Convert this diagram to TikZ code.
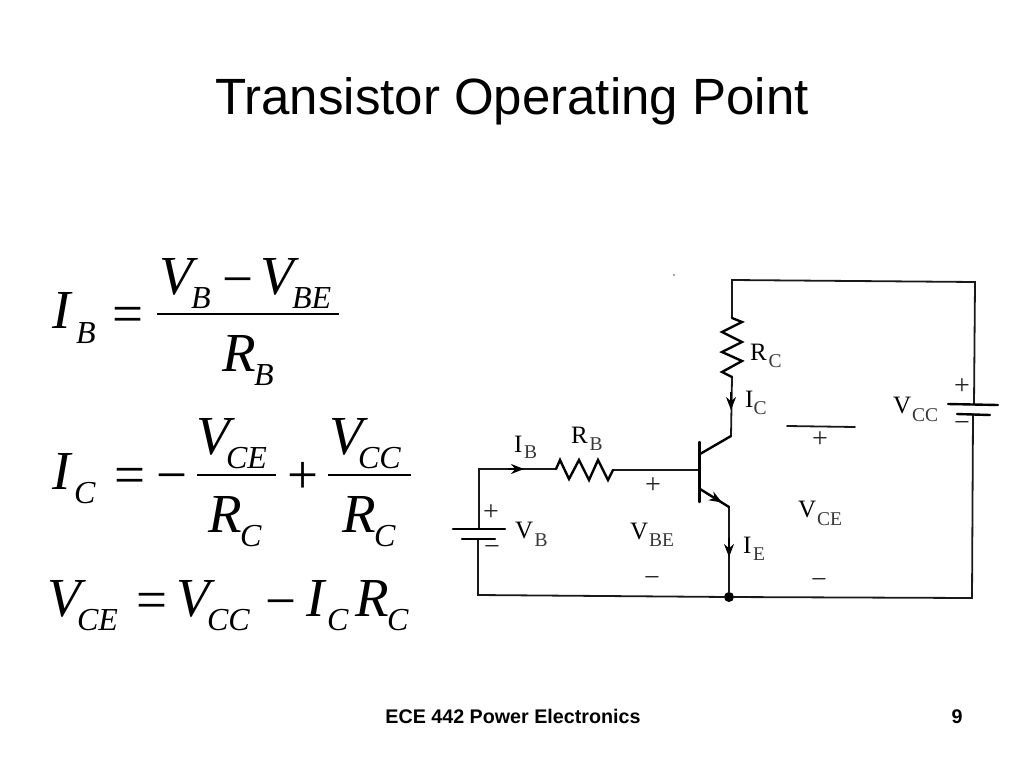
\documentclass[tikz,border=0pt]{standalone}
\usepackage{fontspec}
\setmainfont{Liberation Serif}
\newfontfamily\hd{Liberation Sans}
\usetikzlibrary{arrows.meta}
\newcommand{\mainsz}{\fontsize{25}{25}\selectfont}
\newcommand{\subsz}{\fontsize{19.5}{19.5}\selectfont}
\newcommand{\eqsz}{\fontsize{55}{55}\selectfont\itshape}
\newcommand{\eqsub}{\fontsize{32}{32}\selectfont\itshape}
% circuit label: name, x, y, main text, sub x, sub y, sub text
\newcommand{\clab}[7]{%
  \node[lab,font=\mainsz] (#1) at (#2,#3) {#4};
  \node[lab,font=\subsz,text=subgrey] (#1s) at (#5,#6) {#7};}
% formula symbol: name, x, y, text
\newcommand{\eqm}[4]{\node[lab,font=\eqsz] (#1) at (#2,#3) {#4};}
\newcommand{\eqs}[4]{\node[lab,font=\eqsub] (#1) at (#2,#3) {#4};}
\newcommand{\eqo}[4]{\node[lab,font=\fontsize{55}{55}\selectfont] (#1) at (#2,#3) {#4};}
\definecolor{subgrey}{gray}{0.22}
\tikzset{
  x=1pt,y=-1pt,
  lab/.style={anchor=base west,inner sep=0pt,outer sep=0pt},
  sign/.style={anchor=center,inner sep=0pt,font=\fontsize{28}{28}\selectfont,text=black!85},
  wire/.style={line width=1.8pt,line join=miter,line cap=round,black!90},
  heavy/.style={line width=2.4pt,line join=miter,line cap=round,black},
  frac/.style={line width=1.5pt,black},
  tip/.style={-{Stealth[length=13pt,width=10pt]},line width=1.5pt,black},
}
\begin{document}
\begin{tikzpicture}
\useasboundingbox (0,0) rectangle (1024,768);
\fill[white] (0,0) rectangle (1024,768);
% headings
\node[anchor=base,inner sep=0pt,font=\hd\fontsize{51}{51}\selectfont] (title) at (512,114) {Transistor Operating Point};
\node[anchor=base,inner sep=0pt,font=\hd\bfseries\fontsize{19.7}{20}\selectfont] (foot) at (513,723) {ECE 442 Power Electronics};
\node[anchor=base,inner sep=0pt,font=\hd\bfseries\fontsize{19.7}{20}\selectfont] (page) at (957,723) {9};
% equation 1
\eqm{a1}{52}{328}{I}\eqs{a1s}{76}{343}{B}\eqo{a2}{112.5}{332}{=}
\eqm{a3}{159}{294}{V}\eqs{a3s}{191}{308}{B}\eqo{a4}{222.5}{297}{−}
\eqm{a5}{260}{294}{V}\eqs{a5s}{292}{308}{BE}
\coordinate (a6) at (157,314);\coordinate (a7) at (339,314);\draw[frac] (a6)--(a7);
\eqm{a8}{222}{371}{R}\eqs{a8s}{254}{385}{B}
% equation 2
\eqm{b1}{52}{489}{I}\eqs{b1s}{74}{503}{C}\eqo{b2}{114.5}{493}{=}\eqo{b3}{156.5}{493}{−}
\eqm{b4}{196}{454}{V}\eqs{b4s}{226}{468}{CE}
\coordinate (b5) at (197,475);\coordinate (b6) at (276,475);\draw[frac] (b5)--(b6);
\eqm{b7}{208}{532}{R}\eqs{b7s}{240}{546}{C}\eqo{b8}{287}{493}{+}
\eqm{b9}{329}{454}{V}\eqs{b9s}{358}{468}{CC}
\coordinate (b10) at (328,475);\coordinate (b11) at (411,475);\draw[frac] (b10)--(b11);
\eqm{b12}{342}{532}{R}\eqs{b12s}{374}{546}{C}
% equation 3
\eqm{c1}{47}{616}{V}\eqs{c1s}{77}{630}{CE}\eqo{c2}{136.5}{618}{=}
\eqm{c3}{176}{616}{V}\eqs{c3s}{207}{630}{CC}\eqo{c4}{265.5}{619}{−}
\eqm{c5}{306}{616}{I}\eqs{c5s}{327}{630}{C}\eqm{c6}{355}{616}{R}\eqs{c6s}{387}{630}{C}
% circuit points
\coordinate (tl) at (479,469);
\coordinate (rbl) at (556,469);
\coordinate (rbr) at (613,470);
\coordinate (base) at (699,470);
\coordinate (bartop) at (699.5,442);
\coordinate (barbot) at (699.5,502);
\coordinate (col0) at (700,454);
\coordinate (col1) at (731,436);
\coordinate (rcb) at (732,377);
\coordinate (rct) at (732,318);
\coordinate (topl) at (732,280);
\coordinate (topr) at (975,282);
\coordinate (vccp) at (974,404);
\coordinate (vccn) at (973,414);
\coordinate (botr) at (972,598);
\coordinate (botl) at (478,595);
\coordinate (vbp) at (479,529);
\coordinate (vbn) at (478,539);
\coordinate (em0) at (700,489);
\coordinate (em1) at (729,507);
\node[circle,fill=black,minimum size=10pt,inner sep=0pt] (jn) at (729,597) {};
% wires
\draw[wire] (vbp)--(tl)--(rbl);
\draw[wire] (rbr)--(base);
\draw[wire] (rct)--(topl)--(topr)--(vccp);
\draw[wire] (vccn)--(botr)--(jn)--(botl)--(vbn);
\draw[wire] (em1)--(jn);
\draw[wire] (col1)--(rcb);
% resistors
\draw[heavy] (rbl)--(560,460)--(569,479)--(579,460)--(589,480)--(598,460)--(608,480)--(rbr);
\draw[heavy] (rct)--(742,322)--(722,332)--(742,342)--(722,352)--(742,361)--(722,372)--(rcb);
% transistor
\draw[heavy] (bartop)--(barbot);
\draw[heavy] (col0)--(col1);
\draw[heavy] (em0)--(em1);
% arrow heads
\coordinate (ib0) at (508,469);\coordinate (ib1) at (524,469);\draw[tip] (ib0)--(ib1);
\coordinate (ic0) at (731,392);\coordinate (ic1) at (731,410);\draw[tip] (ic0)--(ic1);
\coordinate (ie0) at (729,538);\coordinate (ie1) at (729,557);\draw[tip] (ie0)--(ie1);
\coordinate (te0) at (706,493);\coordinate (te1) at (722,502.5);\draw[tip] (te0)--(te1);
% batteries
\coordinate (vb1) at (453,529);\coordinate (vb2) at (505,529);\draw[heavy] (vb1)--(vb2);
\coordinate (vb3) at (462,539);\coordinate (vb4) at (495,539);\draw[heavy] (vb3)--(vb4);
\coordinate (vc1) at (948,404);\coordinate (vc2) at (998,405);\draw[heavy] (vc1)--(vc2);
\coordinate (vc3) at (957,414);\coordinate (vc4) at (990,415);\draw[heavy] (vc3)--(vc4);
\coordinate (ce1) at (787,426);\coordinate (ce2) at (855,427);\draw[wire] (ce1)--(ce2);
% labels
\clab{ib}{514}{452}{I}{524}{458}{B}
\clab{rb}{571}{443}{R}{589.5}{450}{B}
\clab{vb}{515}{538}{V}{534.5}{546}{B}
\clab{vbe}{630}{539}{V}{649}{546}{BE}
\clab{ie}{743}{553}{I}{753}{560}{E}
\clab{rc}{750}{360}{R}{768.5}{367}{C}
\clab{ic}{745}{407}{I}{753.5}{414}{C}
\clab{vcc}{893}{413}{V}{912}{421}{CC}
\clab{vce}{798}{517}{V}{817}{525}{CE}
% signs
\node[sign] (p1) at (491,513) {+};
\node[sign] (m1) at (492,550) {−};
\node[sign] (p2) at (653,486) {+};
\node[sign] (m2) at (652,581) {−};
\node[sign] (p3) at (820,440) {+};
\node[sign] (m3) at (819,583) {−};
\node[sign] (p4) at (962,387) {+};
\node[sign] (m4) at (962,426) {−};
\fill[black!70] (674,275) circle (0.9pt);
\end{tikzpicture}
\end{document}
